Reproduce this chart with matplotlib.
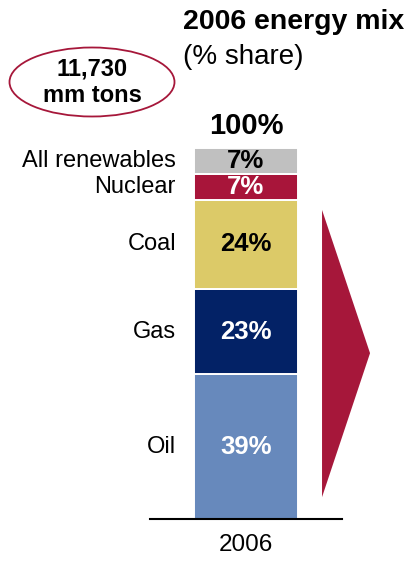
import matplotlib
matplotlib.use("Agg")
import matplotlib.pyplot as plt
from matplotlib.patches import Ellipse

plt.rcParams['font.family'] = ['Liberation Sans', 'DejaVu Sans']

# data
sources = ['Oil', 'Gas', 'Coal', 'Nuclear', 'All renewables']
shares = [39, 23, 24, 7, 7]
colors = ['#6789BC', '#032266', '#DCCA68', '#A8153A', '#C0C0C0']
label_colors = ['white', 'white', 'black', 'white', 'black']
year = '2006'

fig = plt.figure(figsize=(4.14, 5.61), dpi=100)
# axes placed so that 0..100% spans the bar area
ax = fig.add_axes([150 / 414, (561 - 519) / 561, 192 / 414, 371 / 561])
ax.set_xlim(0, 1)
ax.set_ylim(0, 100)

bottom = 0
for src, val, col, lc in zip(sources, shares, colors, label_colors):
    ax.bar(0.5, val, width=0.545, bottom=bottom, color=col,
           edgecolor='white', linewidth=1.4)
    mid = bottom + val / 2
    ax.text(0.5, mid, f'{val}%', ha='center', va='center', color=lc,
            fontsize=18.5, fontweight='bold')
    ax.text(0.135, mid, src, ha='right', va='center', color='black',
            fontsize=17, clip_on=False)
    bottom += val

ax.text(0.5, bottom + 5.9, f'{sum(shares)}%', ha='center', va='center',
        fontsize=21, fontweight='bold', clip_on=False)

# arrow-like triangle to the right
ax.fill([0.896, 1.146, 0.896], [83.3, 44.7, 5.9], color='#A6173A',
        clip_on=False, linewidth=0)

for s in ['top', 'right', 'left']:
    ax.spines[s].set_visible(False)
ax.spines['bottom'].set_linewidth(1.5)
ax.set_yticks([])
ax.set_xticks([0.5])
ax.set_xticklabels([year], fontsize=17.5)
ax.tick_params(axis='x', length=0, pad=11)

# title block
fig.text(183 / 414, 1 - 22 / 561, '2006 energy mix', ha='left', va='center',
         fontsize=20.5, fontweight='bold')
fig.text(183 / 414, 1 - 57 / 561, '(% share)', ha='left', va='center',
         fontsize=20)

# volume bubble
ell = Ellipse((92 / 414, 1 - 82 / 561), 165 / 414, 69 / 561,
              transform=fig.transFigure, facecolor='none',
              edgecolor='#A6173A', linewidth=1.3)
fig.add_artist(ell)
fig.text(92 / 414, 1 - 69 / 561, '11,730', ha='center', va='center',
         fontsize=17, fontweight='bold')
fig.text(92 / 414, 1 - 96 / 561, 'mm tons', ha='center', va='center',
         fontsize=17, fontweight='bold')

fig.savefig('out.png', dpi=100)
